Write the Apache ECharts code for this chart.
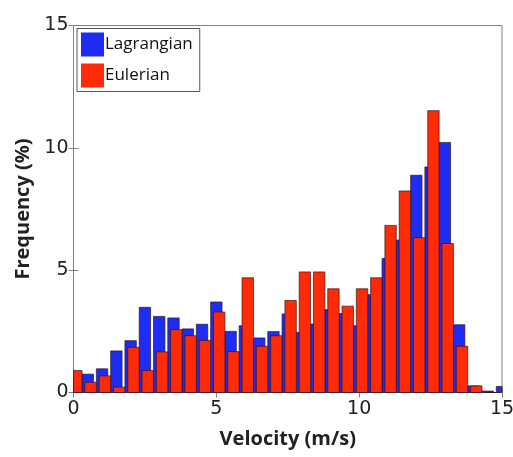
<!DOCTYPE html>
<html>
<head>
<meta charset="utf-8">
<script src="https://cdn.jsdelivr.net/npm/echarts@6/dist/echarts.min.js"></script>
<style>
  html, body { margin: 0; padding: 0; background: #ffffff; }
  #chart { width: 513px; height: 457px; }
</style>
</head>
<body>
<div id="chart"></div>
<script>
// Velocity histogram: bin centres (m/s) and frequency (%) for each method
const lagrangianCenters = [0, 0.5, 1, 1.5, 2, 2.5, 3, 3.5, 4, 4.5, 5, 5.5, 6, 6.5, 7, 7.5,
  8, 8.5, 9, 9.5, 10, 10.5, 11, 11.5, 12, 12.5, 13, 13.5, 14, 14.5, 15];
const lagrangianFreq = [0.6, 0.75, 0.97, 1.70, 2.12, 3.48, 3.11, 3.05, 2.60, 2.79, 3.70, 2.50,
  2.73, 2.23, 2.49, 3.21, 2.46, 2.80, 3.39, 3.23, 2.73, 4.00, 5.48, 6.23, 8.88, 9.22,
  10.22, 2.77, 0.27, 0.06, 0.25];

const eulerianCenters = [0.1, 0.6, 1.1, 1.6, 2.1, 2.6, 3.1, 3.6, 4.1, 4.6, 5.1, 5.6, 6.1, 6.6,
  7.1, 7.6, 8.1, 8.6, 9.1, 9.6, 10.1, 10.6, 11.1, 11.6, 12.1, 12.6, 13.1, 13.6, 14.1, 14.6];
const eulerianFreq = [0.90, 0.42, 0.68, 0.22, 1.85, 0.90, 1.66, 2.57, 2.32, 2.13, 3.29, 1.67,
  4.69, 1.89, 2.32, 3.76, 4.93, 4.93, 4.24, 3.53, 4.24, 4.69, 6.83, 8.24, 6.33, 11.52,
  6.09, 1.89, 0.27, 0.0];

const xTicks = [0, 5, 10, 15];
const yTicks = [0, 5, 10, 15];

const BLUE = '#1f2cf4';
const RED = '#ff2a06';
const EDGE = 'rgba(40,15,15,0.8)';
const BAR_WIDTH = 0.4; // in velocity units

function pairs(xs, ys) {
  return xs.map((x, i) => [x, ys[i]]);
}

// Histogram bar drawn in data space, clipped to the plotting area
function histBar(color) {
  return function (params, api) {
    const x = api.value(0);
    const y = api.value(1);
    const p0 = api.coord([x - BAR_WIDTH / 2, y]);
    const p1 = api.coord([x + BAR_WIDTH / 2, 0]);
    const cs = params.coordSys;
    const shape = echarts.graphic.clipRectByRect(
      { x: p0[0], y: p0[1], width: p1[0] - p0[0], height: p1[1] - p0[1] },
      { x: cs.x, y: cs.y, width: cs.width, height: cs.height }
    );
    if (!shape) return null;
    return {
      type: 'rect',
      shape: shape,
      style: { fill: color, stroke: EDGE, lineWidth: 0.8 }
    };
  };
}

const tickFont = { fontFamily: 'DejaVu Sans', fontSize: 19, color: '#222' };
const titleFont = { fontFamily: 'Open Sans', fontWeight: 'bold', fontSize: 20, color: '#222' };

const chart = echarts.init(document.getElementById('chart'), null, { renderer: 'canvas' });
chart.setOption({
  backgroundColor: '#ffffff',
  animation: false,
  grid: {
    left: 73.5, right: 11, top: 25.5, bottom: 64.5,
    outerBoundsMode: 'none', containLabel: false,
    show: true, borderColor: '#808080', borderWidth: 1, backgroundColor: 'transparent'
  },
  legend: {
    orient: 'vertical',
    left: 77, top: 28.5,
    itemWidth: 23, itemHeight: 24, itemGap: 7,
    padding: [4, 7, 4, 4],
    borderColor: '#555', borderWidth: 1, backgroundColor: '#fff',
    icon: 'rect',
    textStyle: { fontFamily: 'Open Sans', fontSize: 17, color: '#111', padding: [3, 0, 0, -4] },
    data: [
      { name: 'Lagrangian', itemStyle: { color: BLUE } },
      { name: 'Eulerian', itemStyle: { color: RED } }
    ]
  },
  xAxis: [{
    type: 'value', min: xTicks[0], max: xTicks[xTicks.length - 1], interval: 5,
    name: 'Velocity (m/s)', nameLocation: 'middle', nameGap: 37,
    nameTextStyle: titleFont,
    axisLine: { show: false },
    axisTick: { show: true, inside: true, length: 5, lineStyle: { color: '#808080' } },
    axisLabel: Object.assign({ margin: 7 }, tickFont),
    splitLine: { show: false }
  }, {
    type: 'value', position: 'top', min: xTicks[0], max: xTicks[xTicks.length - 1], interval: 5,
    axisLine: { show: false },
    axisTick: { show: true, inside: true, length: 5, lineStyle: { color: '#808080' } },
    axisLabel: { show: false },
    splitLine: { show: false }
  }],
  yAxis: [{
    type: 'value', min: yTicks[0], max: yTicks[yTicks.length - 1], interval: 5,
    name: 'Frequency (%)', nameLocation: 'middle', nameGap: 38,
    nameTextStyle: titleFont,
    axisLine: { show: false },
    axisTick: { show: true, inside: true, length: 5, lineStyle: { color: '#808080' } },
    axisLabel: Object.assign({ margin: 5 }, tickFont),
    splitLine: { show: false }
  }, {
    type: 'value', position: 'right', min: yTicks[0], max: yTicks[yTicks.length - 1], interval: 5,
    axisLine: { show: false },
    axisTick: { show: true, inside: true, length: 5, lineStyle: { color: '#808080' } },
    axisLabel: { show: false },
    splitLine: { show: false }
  }],
  series: [{
    name: 'Lagrangian',
    type: 'custom',
    xAxisIndex: 0, yAxisIndex: 0,
    itemStyle: { color: BLUE },
    renderItem: histBar(BLUE),
    encode: { x: 0, y: 1 },
    data: pairs(lagrangianCenters, lagrangianFreq),
    z: 2
  }, {
    name: 'Eulerian',
    type: 'custom',
    xAxisIndex: 0, yAxisIndex: 0,
    itemStyle: { color: RED },
    renderItem: histBar(RED),
    encode: { x: 0, y: 1 },
    data: pairs(eulerianCenters, eulerianFreq),
    z: 3
  }]
});
</script>
</body>
</html>
